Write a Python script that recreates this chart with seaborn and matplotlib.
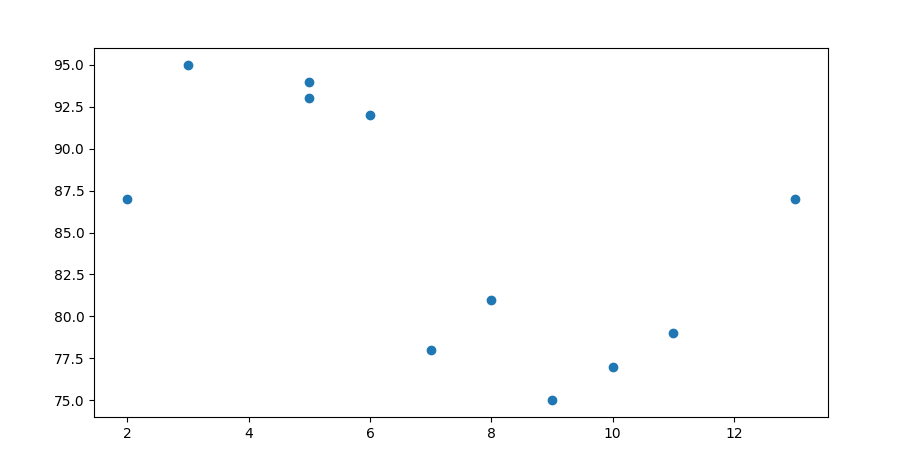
import matplotlib
matplotlib.use("Agg")
import matplotlib.pyplot as plt
import seaborn as sns
import pandas as pd

x_values = [2, 3, 5, 5, 6, 7, 8, 9, 10, 11, 13]
y_values = [87, 95, 94, 93, 92, 78, 81, 75, 77, 79, 87]

df = pd.DataFrame({"x": x_values, "y": y_values})

fig, ax = plt.subplots(figsize=(9.08, 4.68), dpi=100)
fig.subplots_adjust(left=94/908, right=828/908, top=1-48/468, bottom=1-417/468)
sns.scatterplot(data=df, x="x", y="y", ax=ax, s=36, color="#1f77b4", edgecolor="#1f77b4", linewidth=1.0)
ax.set_xlabel("")
ax.set_ylabel("")
ax.set_yticks([75.0, 77.5, 80.0, 82.5, 85.0, 87.5, 90.0, 92.5, 95.0])
ax.set_yticklabels(["75.0", "77.5", "80.0", "82.5", "85.0", "87.5", "90.0", "92.5", "95.0"])
ax.set_xticks([2, 4, 6, 8, 10, 12])
fig.savefig("out.png", dpi=100)
